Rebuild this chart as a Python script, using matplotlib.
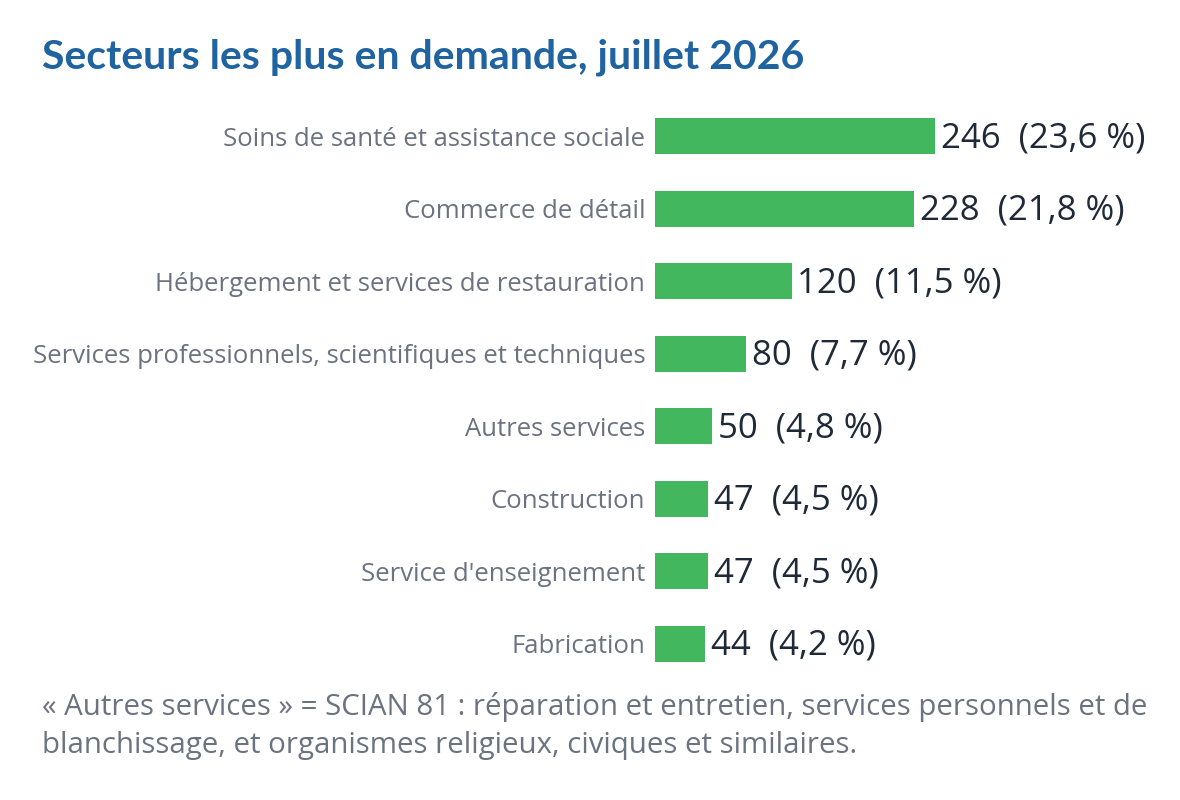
import matplotlib
matplotlib.use("Agg")
import matplotlib.pyplot as plt
import matplotlib.transforms as mtransforms

# Data
sectors = [
    "Soins de santé et assistance sociale",
    "Commerce de détail",
    "Hébergement et services de restauration",
    "Services professionnels, scientifiques et techniques",
    "Autres services",
    "Construction",
    "Service d'enseignement",
    "Fabrication",
]
counts = [246, 228, 120, 80, 50, 47, 47, 44]
shares = ["23,6", "21,8", "11,5", "7,7", "4,8", "4,5", "4,5", "4,2"]

title = "Secteurs les plus en demande, juillet 2026"
note = ("« Autres services » = SCIAN 81 : réparation et entretien, services personnels et de\n"
        "blanchissage, et organismes religieux, civiques et similaires.")

W, H = 1180, 800
fig = plt.figure(figsize=(W / 100, H / 100), dpi=100)
fig.patch.set_facecolor("white")

# axes placed in pixel terms: bars start at x=655, rows from y=100 to y=680
left, right, top, bottom = 655, 1180, 100, 680
ax = fig.add_axes([left / W, 1 - bottom / H, (right - left) / W, (bottom - top) / H])
ax.set_xlim(0, (right - left) / 1.138)
ax.set_ylim(len(sectors) - 0.5, -0.5)

ypos = list(range(len(sectors)))
ax.barh(ypos, counts, height=0.5, color="#43b75d", left=0)

for y, c, s in zip(ypos, counts, shares):
    ax.text(c + 5, y + 0.03, f"{c}  ({s} %)", va="center", ha="left",
            fontsize=25, family="Open Sans", color="#1f2937")

ax.set_yticks(ypos)
ax.set_yticklabels(sectors, fontsize=18.5, family="Open Sans", color="#6b7280")
# nudge the category labels a touch lower, like the original
shift = mtransforms.ScaledTranslation(0, -3 / 100, fig.dpi_scale_trans)
for lab in ax.get_yticklabels():
    lab.set_transform(lab.get_transform() + shift)
ax.tick_params(axis="y", length=0, pad=7)
ax.set_xticks([])
for sp in ax.spines.values():
    sp.set_visible(False)

fig.text(42 / W, 1 - 57 / H, title, fontsize=29.5, fontweight="bold", family="Lato",
         color="#1f63a0", va="center", ha="left")
fig.text(42 / W, 1 - 692 / H, note, fontsize=21.2, family="Open Sans", color="#6b7280",
         va="top", ha="left", linespacing=1.39)

fig.savefig("out.png", dpi=100, facecolor="white")
